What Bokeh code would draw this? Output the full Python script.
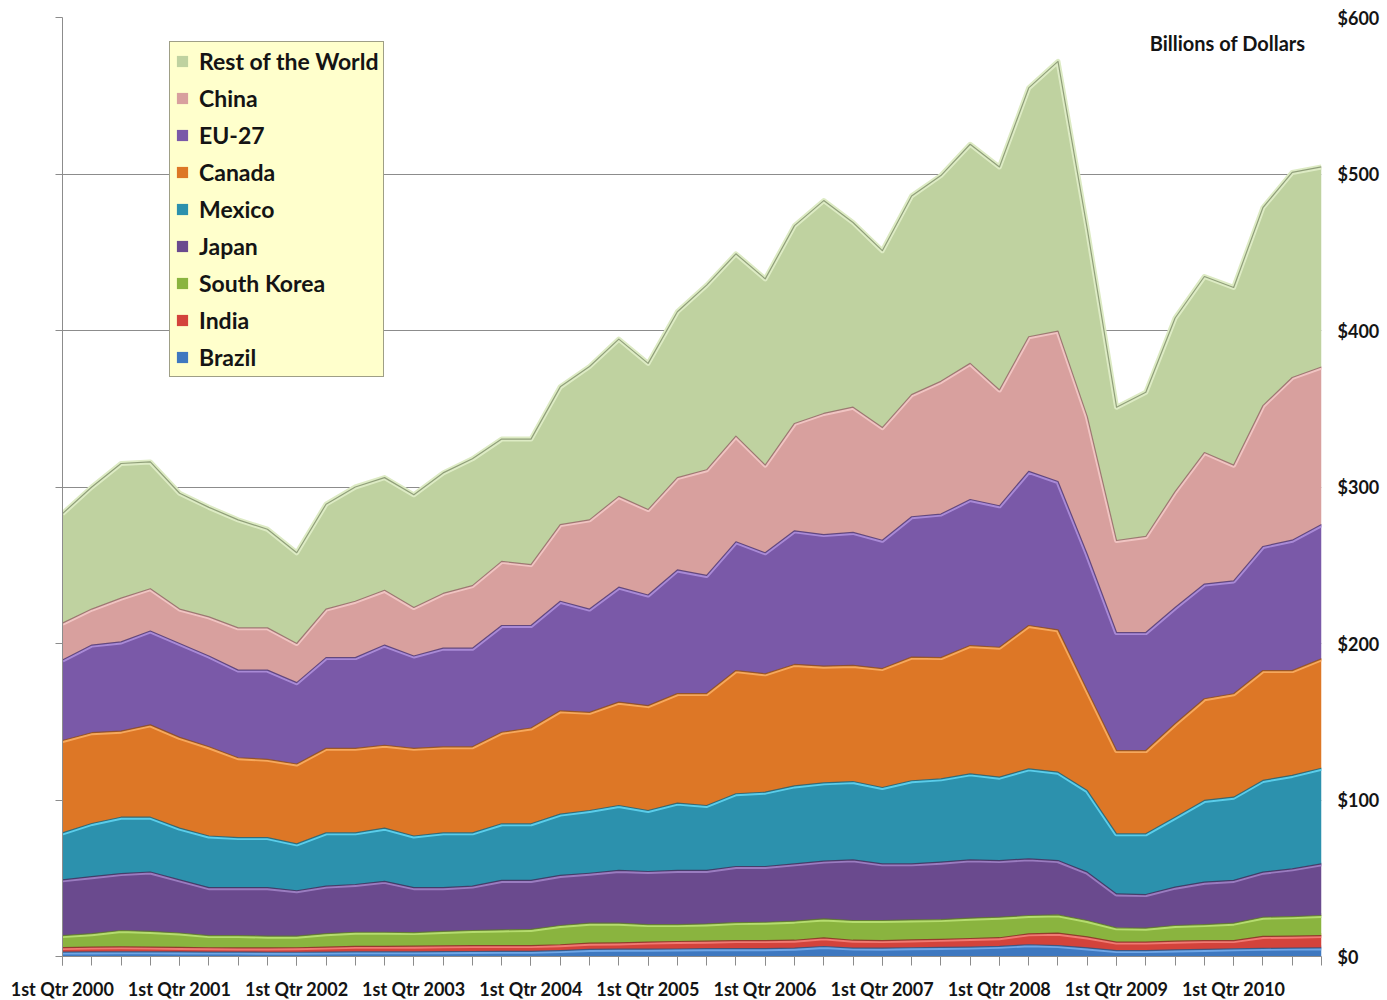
import numpy as np
from bokeh.plotting import figure
from bokeh.models import (Range1d, FixedTicker, LinearAxis, Legend, LegendItem,
                          Label, ColumnDataSource)
from bokeh.embed import file_html
from bokeh.resources import INLINE

# ---------------- data (billions of dollars, quarterly) ----------------
years = list(range(2000, 2011))
ordinals = ["1st", "2nd", "3rd", "4th"]
quarters = [f"{o} Qtr {y}" for y in years for o in ordinals]

brazil = [2.8, 2.9, 3.0, 3.0, 2.9, 2.8, 2.8, 2.7, 2.7, 2.8, 3.0, 3.0,
          3.0, 3.1, 3.2, 3.3, 3.3, 3.8, 4.5, 4.7, 4.7, 4.8, 5.0, 5.0,
          5.0, 5.3, 6.4, 5.4, 5.3, 5.6, 5.8, 6.0, 6.5, 7.5, 7.0, 5.5,
          3.8, 3.8, 4.2, 4.5, 4.9, 5.2, 5.4, 5.5]
india = [2.9, 3.1, 3.2, 3.0, 2.9, 2.8, 2.7, 2.8, 2.9, 3.2, 3.5, 3.5,
         3.6, 3.7, 3.8, 3.7, 3.7, 3.7, 4.0, 4.0, 4.5, 4.8, 4.8, 5.2,
         5.2, 5.1, 5.5, 5.0, 4.9, 5.0, 5.2, 5.5, 5.5, 7.0, 7.9, 7.0,
         5.4, 5.4, 5.6, 5.7, 5.3, 7.6, 7.6, 7.9]
south_korea = [7.7, 8.6, 10.4, 10.0, 9.2, 7.8, 7.9, 7.5, 7.4, 8.6, 9.0, 9.0,
               8.7, 9.2, 9.6, 10.0, 10.3, 12.3, 12.8, 12.6, 11.2, 10.8, 11.0, 11.5,
               11.7, 12.2, 12.1, 12.6, 12.8, 12.8, 12.6, 13.0, 13.1, 11.7, 11.7, 10.5,
               9.1, 8.9, 10.0, 10.2, 11.1, 12.3, 12.5, 12.8]
japan = [35.6, 36.4, 36.4, 38.0, 34.0, 30.6, 30.6, 31.0, 29.0, 30.4, 30.5, 32.5,
         28.7, 28.0, 28.4, 31.6, 31.3, 32.0, 31.9, 33.7, 33.9, 34.6, 34.2, 35.8,
         35.6, 36.6, 37.0, 38.8, 36.2, 35.8, 36.7, 37.3, 36.2, 36.2, 34.7, 30.9,
         21.7, 21.5, 24.5, 27.1, 27.3, 28.8, 30.5, 33.0]
mexico = [30.0, 34.0, 36.0, 35.0, 33.0, 33.0, 32.0, 32.0, 30.0, 34.0, 33.0, 34.0,
          33.0, 35.0, 34.0, 36.2, 36.2, 39.2, 40.1, 41.5, 39.0, 43.0, 41.5, 46.5,
          47.5, 49.8, 50.0, 50.0, 48.8, 53.1, 53.2, 54.9, 53.3, 57.5, 56.5, 52.1,
          38.4, 38.8, 44.7, 52.2, 53.2, 58.6, 59.7, 61.1]
canada = [59.0, 58.0, 55.0, 59.0, 58.0, 57.0, 51.0, 50.0, 51.0, 54.0, 54.0, 53.0,
          56.0, 55.0, 55.0, 58.5, 61.2, 66.0, 62.7, 66.0, 67.0, 70.0, 71.5, 78.7,
          75.6, 77.6, 74.5, 74.2, 76.0, 79.0, 77.5, 82.0, 83.0, 91.6, 90.9, 64.0,
          53.2, 53.2, 59.7, 65.0, 66.1, 70.2, 67.0, 69.9]
eu27 = [51.5, 56.0, 57.0, 60.0, 60.0, 58.0, 56.0, 57.0, 52.0, 58.0, 58.0, 64.0,
        59.0, 63.0, 63.0, 68.2, 65.5, 70.0, 66.0, 73.5, 70.7, 79.0, 75.5, 82.3,
        77.4, 85.4, 84.1, 85.0, 82.0, 89.7, 91.7, 93.3, 90.4, 98.5, 94.8, 87.0,
        75.4, 75.4, 74.3, 73.3, 72.1, 79.3, 83.3, 85.8]
china = [23.5, 23.0, 28.0, 27.0, 22.0, 25.0, 27.0, 27.0, 25.0, 31.0, 36.0, 35.0,
         31.0, 35.0, 40.0, 41.0, 38.9, 49.0, 57.0, 58.0, 54.6, 59.0, 67.5, 67.5,
         56.0, 68.6, 77.4, 80.0, 72.0, 78.0, 84.8, 87.0, 74.0, 86.0, 96.1, 88.0,
         58.8, 61.4, 74.0, 84.0, 74.0, 90.0, 104.0, 100.7]
rest_of_world = [70.0, 78.0, 86.0, 81.0, 74.0, 70.0, 69.0, 63.0, 58.0, 67.0, 73.0, 72.0,
                 72.0, 77.0, 81.0, 78.1, 80.2, 88.0, 98.0, 100.5, 93.4, 106.0, 118.0, 116.5,
                 119.0, 126.4, 136.0, 118.0, 113.0, 127.0, 131.5, 140.0, 142.5, 159.0, 172.4, 120.0,
                 85.2, 92.1, 111.0, 112.5, 113.5, 126.6, 131.0, 127.8]

series_names = ["Brazil", "India", "South Korea", "Japan", "Mexico", "Canada",
                "EU-27", "China", "Rest of the World"]
series_values = [brazil, india, south_korea, japan, mexico, canada, eu27, china, rest_of_world]
y_ticks = [0, 100, 200, 300, 400, 500, 600]
y_tick_labels = ["$0", "$100", "$200", "$300", "$400", "$500", "$600"]

# ---------------- styling ----------------
fills = ["#3E78C0", "#D3433B", "#8AB43F", "#6A4A8E", "#2C91AD", "#DD7726",
         "#7A59A8", "#D8A09E", "#BFD2A0"]
highlights = ["#6FA6E6", "#F07A72", "#B5DC6E", "#9A7CC0", "#5ACDEA", "#F6A85C",
              "#A98AD6", "#F0C4C2", "#DDEBC4"]
edges = ["#27507F", "#8A2622", "#5A7726", "#3F2A57", "#1B5E72", "#8E4A14",
         "#4B3570", "#8E6463", "#7D8C68"]
FONT = "Lato"
TXT = "#141414"

x = np.arange(len(quarters))
vals = np.array(series_values, dtype=float)
tops = np.cumsum(vals, axis=0)
bottoms = np.vstack([np.zeros(len(quarters)), tops[:-1]])

p = figure(frame_width=1259, frame_height=939, output_backend="svg",
           toolbar_location=None, x_range=Range1d(0, len(quarters) - 1),
           y_range=Range1d(0, 600), min_border_left=62, min_border_top=17,
           min_border_right=62, min_border_bottom=42)
p.outline_line_color = None
p.background_fill_color = "white"

src = ColumnDataSource(dict(x=x, **{f"b{k}": bottoms[k] for k in range(9)},
                            **{f"t{k}": tops[k] for k in range(9)}))

renderers = []
for k in range(9):
    r = p.varea(x="x", y1=f"b{k}", y2=f"t{k}", source=src, fill_color=fills[k])
    renderers.append(r)
    p.line(x="x", y=f"t{k}", source=src, line_color=highlights[k], line_width=5,
           line_join="round")
for k in range(9):
    p.line(x="x", y=f"t{k}", source=src, line_color=edges[k], line_width=1.2,
           line_alpha=0.8, line_join="round")

# grid
p.xgrid.visible = False
p.ygrid.ticker = FixedTicker(ticks=y_ticks)
p.ygrid.grid_line_color = "#8C8C8C"
p.ygrid.grid_line_width = 1
p.ygrid.level = "underlay"

# bottom axis
xa = p.xaxis[0]
xa.ticker = FixedTicker(ticks=[i for i in range(len(quarters)) if i % 4 == 0],
                        minor_ticks=list(range(len(quarters))))
xa.major_label_overrides = {i: quarters[i] for i in range(len(quarters)) if i % 4 == 0}
xa.major_tick_out = 9
xa.major_tick_in = 0
xa.minor_tick_out = 9
xa.minor_tick_in = 0
xa.axis_line_color = "#8C8C8C"
xa.major_tick_line_color = "#8C8C8C"
xa.minor_tick_line_color = "#8C8C8C"
xa.major_label_text_font = FONT
xa.major_label_text_font_style = "bold"
xa.major_label_text_font_size = "18px"
xa.major_label_text_color = TXT
xa.major_label_standoff = 12

# left axis (no labels)
ya = p.yaxis[0]
ya.ticker = FixedTicker(ticks=y_ticks)
ya.major_label_overrides = {v: "" for v in y_ticks}
ya.major_tick_out = 7
ya.major_tick_in = 0
ya.minor_tick_line_color = None
ya.axis_line_color = "#8C8C8C"
ya.major_tick_line_color = "#8C8C8C"

# right axis with labels
ra = LinearAxis(ticker=FixedTicker(ticks=y_ticks))
ra.major_label_overrides = {v: s for v, s in zip(y_ticks, y_tick_labels)}
ra.axis_line_color = None
ra.major_tick_line_color = None
ra.minor_tick_line_color = None
ra.major_label_standoff = 10
ra.major_label_text_font = FONT
ra.major_label_text_font_style = "bold"
ra.major_label_text_font_size = "18px"
ra.major_label_text_color = TXT
p.add_layout(ra, "right")

# units label
p.add_layout(Label(x=42.45, y=584, text="Billions of Dollars", text_align="right",
                   text_baseline="middle", text_font=FONT, text_font_style="bold",
                   text_font_size="20px", text_color=TXT))

# legend (top entry = top layer)
items = [LegendItem(label=series_names[k], renderers=[renderers[k]]) for k in range(8, -1, -1)]
legend = Legend(items=items, location=(107, 579))
legend.background_fill_color = "#FFFFCC"
legend.background_fill_alpha = 1.0
legend.border_line_color = "#404040"
legend.border_line_width = 1
legend.label_text_font = FONT
legend.label_text_font_style = "bold"
legend.label_text_font_size = "23px"
legend.label_text_color = TXT
legend.glyph_width = 14
legend.glyph_height = 14
legend.label_standoff = 10
legend.label_height = 20
legend.spacing = 9
legend.padding = 5
legend.margin = 0
p.add_layout(legend)

open("out.html", "w").write(file_html(p, INLINE))
